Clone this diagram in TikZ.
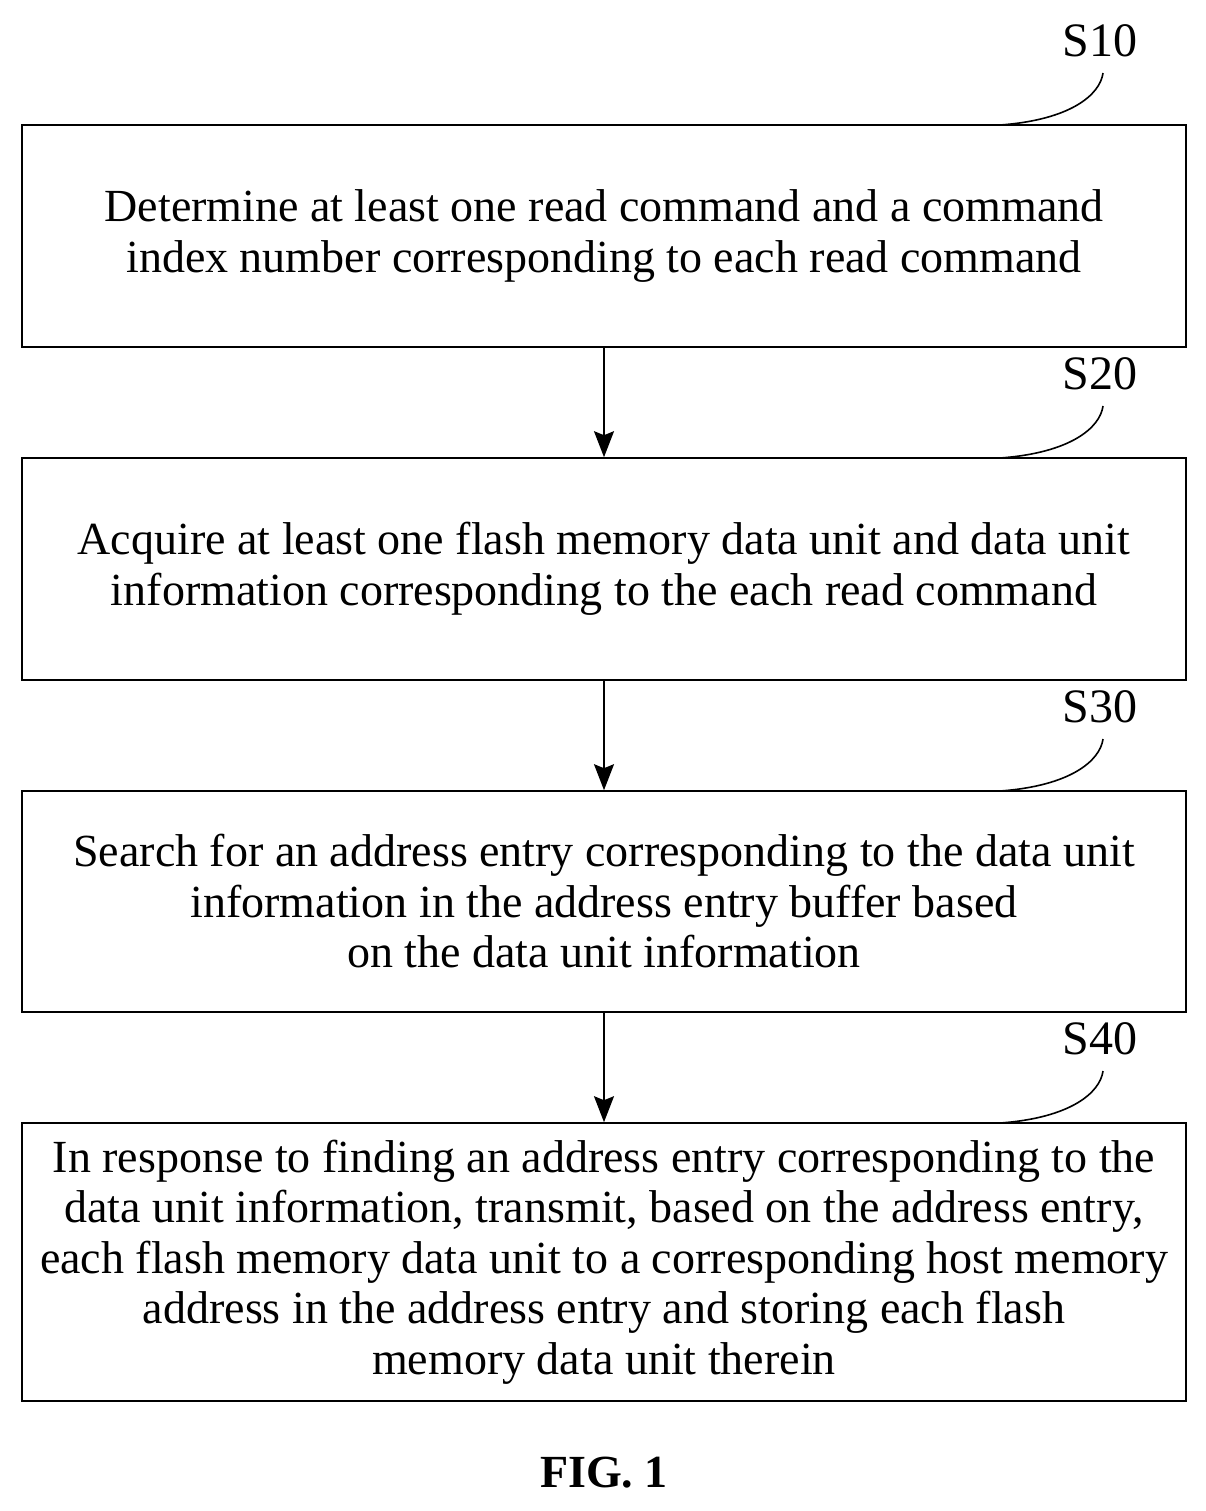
\documentclass[tikz,border=0pt]{standalone}
\usepackage{fontspec}
\setmainfont{Liberation Serif}
\usetikzlibrary{arrows.meta}
\begin{document}
\begin{tikzpicture}[x=1pt,y=-1pt,
  box/.style={draw,line width=1.6pt,minimum width=1164pt,align=center,font=\fontsize{46}{50.5}\selectfont,inner sep=0pt},
  arr/.style={line width=1.6pt,-{Stealth[length=26pt,width=20pt,inset=4pt]}},
  lbl/.style={font=\fontsize{48}{50}\selectfont},
  lead/.style={line width=1.6pt}]
\useasboundingbox (0,0) rectangle (1205,1511);
\node[box,minimum height=222pt] (b1) at (604,236) {Determine at least one read command and a command\\index number corresponding to each read command};
\node[box,minimum height=222pt] (b2) at (604,569) {Acquire at least one flash memory data unit and data unit\\information corresponding to the each read command};
\node[box,minimum height=221pt] (b3) at (604,901.5) {Search for an address entry corresponding to the data unit\\information in the address entry buffer based\\on the data unit information};
\node[box,minimum height=278pt] (b4) at (604,1262) {In response to finding an address entry corresponding to the\\data unit information, transmit, based on the address entry,\\each flash memory data unit to a corresponding host memory\\address in the address entry and storing each flash\\memory data unit therein};
\draw[arr] (b1.south) -- (b2.north);
\draw[arr] (b2.south) -- (b3.north);
\draw[arr] (b3.south) -- (b4.north);
\foreach \b/\t/\y in {b1/S10/125,b2/S20/458,b3/S30/791,b4/S40/1123}{
  \node[lbl] (\b l) at (1100,{\y-84}) {\t};
  \coordinate (\b c) at (1000,\y);
  \draw[lead] (\b c) .. controls (1070,{\y-5}) and (1100,{\y-30}) .. (1103,{\y-52});
}
\node[font=\bfseries\fontsize{46}{48}\selectfont] (fig) at (604,1473) {FIG. 1};
\end{tikzpicture}
\end{document}
